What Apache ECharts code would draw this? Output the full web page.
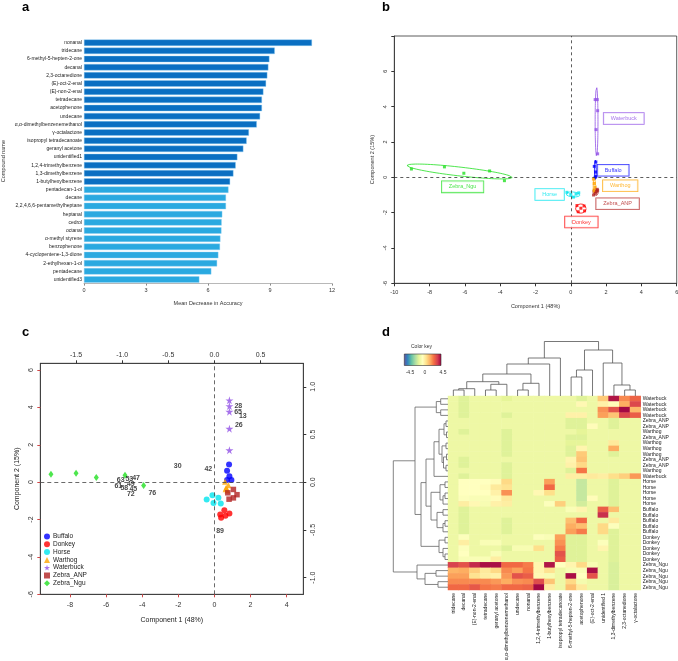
<!DOCTYPE html>
<html><head><meta charset="utf-8">
<script src="https://cdn.jsdelivr.net/npm/echarts@6/dist/echarts.min.js"></script>
<style>html,body{margin:0;padding:0;background:#fff}#c{width:678px;height:661px}</style>
</head><body><div id="c"></div>
<script>
const FONT = 'Liberation Sans, Arial, sans-serif';
// ---------- Panel a ----------
const compounds = ['nonanal','tridecane','6-methyl-5-hepten-2-one','decanal','2,3-octanedione','(E)-oct-2-enal','(E)-non-2-enal','tetradecane','acetophenone','undecane','α,α-dimethylbenzenemethanol','γ-octalactone','isopropyl tetradecanoate','geranyl acetone','unidentified1','1,2,4-trimethylbenzene','1,3-dimethylbenzene','1-butylhexylbenzene','pentadecan-1-ol','decane','2,2,4,6,6-pentamethylheptane','heptanal','cedrol','octanal','α-methyl styrene','benzophenone','4-cyclopentene-1,3-dione','2-ethylhexan-1-ol','pentadecane','unidentified3'];
const mda = [11.03,9.23,8.97,8.92,8.87,8.81,8.68,8.61,8.61,8.52,8.36,7.98,7.87,7.71,7.42,7.34,7.23,7.07,6.99,6.87,6.87,6.69,6.66,6.65,6.60,6.58,6.50,6.44,6.16,5.58];
const nDarkBars = 18;
const aTicks = [0,3,6,9,12];
// ---------- Panel b ----------
const groups = ['Buffalo','Donkey','Horse','Warthog','Waterbuck','Zebra_ANP','Zebra_Ngu'];
const groupColors = ['#0000ff','#ff0000','#00e5ee','#ffa500','#9150e6','#b22222','#22e022'];
const bBuffalo = [[1.42,0.87],[1.33,0.62],[1.40,0.30],[1.42,0.05],[1.38,0.0]];
const bDonkey = [[0.35,-1.6],[0.75,-1.62],[0.42,-1.95],[0.78,-1.9],[0.57,-1.75]];
const bHorse = [[-0.22,-0.85],[0.0,-0.97],[0.15,-1.12],[0.3,-0.95],[0.45,-0.88]];
const bWarthog = [[1.28,-0.1],[1.33,-0.35],[1.38,-0.55],[1.32,-0.72],[1.38,-0.82]];
const bWaterbuck = [[1.38,4.4],[1.5,4.4],[1.52,3.77],[1.43,2.7],[1.52,1.33]];
const bZebraANP = [[1.29,-1.0],[1.4,-0.9],[1.5,-0.68],[1.45,-0.8],[1.52,-0.75]];
const bZebraNgu = [[-9.03,0.47],[-7.16,0.59],[-6.06,0.23],[-4.6,0.36],[-3.76,-0.19]];
const bEllCx = [1.39,0.57,0.12,1.33,1.46,1.4,-6.3];
const bEllCy = [0.42,-1.77,-0.97,-0.45,3.15,-0.84,0.33];
const bEllRx = [0.05,0.3,0.4,0.06,0.08,0.14,3.0];
const bEllRy = [0.55,0.26,0.14,0.45,1.95,0.2,0.25];
const bEllAng = [0,0,-5,0,0,30,-6.5];
const bLabelX = [2.4,0.6,-1.2,2.8,3.0,2.65,-6.13];
const bLabelY = [0.4,-2.53,-0.97,-0.48,3.33,-1.5,-0.54];
// ---------- Panel c ----------
const cBuffalo = [[0.81,0.95],[0.70,0.61],[0.83,0.32],[0.94,0.11],[0.70,0.11]];
const cDonkey = [[0.55,-1.5],[0.32,-1.73],[0.61,-1.8],[0.83,-1.68],[0.37,-1.91]];
const cHorse = [[-0.11,-0.70],[-0.43,-0.93],[0.22,-0.84],[-0.05,-1.11],[0.35,-1.14]];
const cWarthog = [[0.59,0.02],[0.78,-0.16],[0.72,-0.45],[0.65,-0.3],[0.62,-0.38]];
const cWaterbuck = [[0.83,4.38],[0.83,4.07],[0.83,3.77],[0.83,2.86],[0.83,1.71]];
const cZebraANP = [[1.05,-0.39],[0.74,-0.57],[1.25,-0.67],[1.05,-0.84],[0.81,-0.91]];
const cZebraNgu = [[-9.05,0.43],[-7.66,0.48],[-6.54,0.25],[-4.95,0.37],[-3.92,-0.18]];
const cLabelText = ['28','65','13','26','30','42','63','53','47','49','61','58','45','72','76','89'];
const cLabelX = [1.32,1.31,1.57,1.35,-2.03,-0.34,-5.19,-4.71,-4.34,-4.63,-5.32,-4.99,-4.49,-4.63,-3.44,0.31];
const cLabelY = [4.07,3.77,3.54,3.04,0.87,0.70,0.09,0.16,0.20,-0.09,-0.21,-0.34,-0.37,-0.66,-0.57,-2.59];
const cBottomTicks = [-8,-6,-4,-2,0,2,4];
const cLeftTicks = [-6,-4,-2,0,2,4,6];
const cTopTicks = [-1.5,-1.0,-0.5,0,0.5];
const cRightTicks = [-1.0,-0.5,0,0.5,1.0];
// ---------- Panel d ----------
const dColNames = ['tridecane','decanal','(E)-non-2-enal','tetradecane','geranyl acetone','α,α-dimethylbenzenemethanol','undecane','nonanal','1,2,4-trimethylbenzene','1-butylhexylbenzene','isopropyl tetradecanoate','6-methyl-5-hepten-2-one','acetophenone','(E)-oct-2-enal','unidentified 1','1,3-dimethylbenzene','2,3-octanedione','γ-octalactone'];
const dRowNames = ['Waterbuck','Waterbuck','Waterbuck','Waterbuck','Zebra_ANP','Zebra_ANP','Warthog','Zebra_ANP','Warthog','Warthog','Warthog','Zebra_ANP','Zebra_ANP','Warthog','Waterbuck','Horse','Horse','Horse','Horse','Horse','Buffalo','Buffalo','Buffalo','Buffalo','Buffalo','Donkey','Donkey','Donkey','Donkey','Donkey','Zebra_Ngu','Zebra_Ngu','Zebra_Ngu','Zebra_Ngu','Zebra_Ngu'];
const dMatrix = [
[-0.6,-1.0,-0.6,-0.6,-0.6,-0.9,-0.6,-0.6,-0.6,-0.6,-0.6,-0.6,-1.0,-0.6,1.3,4.2,2.3,2.9],
[-0.6,-1.0,-0.6,-0.6,-0.6,-0.6,-0.6,-0.6,-0.6,-0.6,-0.6,-0.6,0.2,-0.6,0.4,0.1,1.8,3.4],
[-0.6,-1.0,-0.6,-0.6,-0.6,-0.6,-0.6,-0.6,-0.6,-0.6,-0.6,-0.6,-0.6,-0.6,2.2,3.2,4.4,1.6],
[-0.6,-1.0,-0.6,-0.6,-0.6,-1.0,-0.6,-0.6,-0.6,-0.6,-0.6,0.4,0.4,-0.6,2.0,1.4,3.4,3.0],
[-0.6,-0.6,-0.6,-0.6,-0.6,-0.6,-0.6,-0.6,-0.6,-0.6,-0.6,-1.0,-1.0,-0.6,-0.6,-1.0,-0.6,-0.6],
[-0.6,-0.6,-0.6,-0.6,-0.6,-0.6,-0.6,-0.6,-0.6,-0.6,-0.6,-1.0,-1.0,0.1,-0.6,-1.0,-0.6,-0.6],
[-0.6,-1.0,-0.6,-0.6,-0.6,-1.0,-0.6,-0.6,-0.6,-0.6,-0.6,-0.6,-0.9,-0.6,-0.6,-0.6,-0.6,-0.6],
[-0.6,-0.6,-0.6,-0.6,-0.6,-1.0,-0.6,-0.6,-0.6,-0.6,-0.6,-1.0,-1.0,-0.6,-0.6,-0.6,-0.6,-0.6],
[-0.6,-0.6,-0.6,-0.6,-0.6,-1.0,-0.6,-0.6,-0.6,-0.6,-0.6,-0.9,-0.9,-0.6,-0.6,0.6,-0.6,-0.6],
[-0.6,-0.6,-0.6,-0.6,-0.6,-1.0,-0.6,-0.6,-0.6,-0.6,-0.6,-1.0,0.3,-0.6,-0.6,1.8,-0.6,-0.6],
[-0.6,-0.6,-0.6,-0.6,-0.6,-1.0,-0.6,-0.6,-0.6,-0.6,-0.6,-1.0,1.3,-0.6,-0.6,-1.0,-0.6,-0.6],
[-0.6,-1.0,-0.6,-0.6,-0.6,-0.6,-0.6,-0.6,-0.6,-0.6,-0.6,0.3,1.4,-0.6,-0.6,-0.6,-0.6,-0.6],
[-0.6,-1.0,-0.6,-0.6,-0.6,-1.0,-0.6,-0.6,-0.6,-0.6,-0.6,0.4,1.0,-0.6,-0.6,-0.6,-0.6,-0.6],
[-0.6,-0.6,-0.6,-0.6,-0.6,-1.0,-0.6,-0.6,-0.6,-0.6,-0.6,-1.0,2.6,-0.6,-0.6,-0.6,-0.6,-0.6],
[-0.6,-1.0,-0.6,-0.6,-0.6,-1.0,-0.6,-0.6,-0.6,-0.6,-0.6,0.5,0.5,0.6,0.5,0.9,1.2,2.1],
[-0.6,0.0,0.0,0.0,0.1,1.0,-0.6,-0.6,-0.6,2.0,-0.6,-0.6,-1.4,-0.6,-0.6,-1.0,-0.6,-0.6],
[-0.6,0.0,0.0,0.1,0.6,0.8,-0.6,-0.6,-0.6,2.8,-0.6,-0.6,-1.4,-0.6,-0.6,-1.0,-0.6,-0.6],
[-0.6,0.0,0.0,0.0,0.4,2.2,-0.6,-0.6,0.2,0.9,-0.6,-0.6,-1.4,-0.6,-0.6,-1.0,-0.6,-0.6],
[-0.6,-0.1,-0.2,-0.2,0.1,0.6,-0.6,-0.6,-0.6,-0.6,-0.6,-0.6,-1.4,0.1,-0.6,-1.0,-0.6,-0.6],
[-0.6,0.5,0.2,-0.3,0.4,0.5,-0.6,-0.6,-0.6,-0.1,1.2,-0.6,-1.2,-0.6,-0.6,-1.0,-0.6,-0.6],
[-0.6,-1.0,-0.6,-0.6,-0.6,-0.6,-0.6,-0.6,-0.6,-0.6,-0.6,-0.2,0.3,-0.6,3.0,1.5,-0.6,-0.6],
[-0.6,-1.0,-0.6,-0.6,-0.6,-0.6,-0.6,-0.6,-0.6,-0.6,-0.6,-0.6,-0.6,-0.6,3.8,-0.6,-0.6,-0.6],
[-0.6,-1.0,-0.6,-0.6,-0.6,-1.0,-0.6,-0.6,-0.6,-0.6,-0.6,1.5,2.8,-0.6,-0.6,0.6,-0.6,-0.6],
[-0.6,-1.0,-0.6,-0.6,-0.6,-1.0,-0.6,-0.6,-0.6,-0.6,-0.6,1.8,1.5,-0.6,1.0,-0.1,-0.6,-0.6],
[-0.6,-1.0,-0.6,-0.6,-0.6,-1.0,-0.6,-0.6,-0.6,-0.6,-0.6,2.0,2.5,-0.6,1.0,-1.0,-0.6,-0.6],
[-0.6,-0.1,-0.6,-0.6,-0.6,-0.6,-0.6,-0.6,-0.1,-0.2,2.0,-1.0,-1.0,-0.6,-0.6,-1.0,-0.6,-0.6],
[-0.6,0.5,-0.6,-0.2,-0.2,-0.6,-0.6,-0.6,-0.6,-0.6,2.2,-1.0,-1.0,-0.6,-0.1,-1.0,-0.6,-0.6],
[-0.6,-0.1,-0.6,-0.6,-0.6,-1.0,-0.3,-0.3,0.9,-0.6,2.5,-1.0,-1.0,-0.6,0.3,-1.0,-0.6,-0.6],
[-0.6,0.0,-0.6,-0.6,-0.2,-0.6,-0.6,-0.6,-0.6,-0.6,3.2,-1.0,-1.0,-0.6,-0.6,-1.0,-0.6,-0.6],
[-0.6,-0.2,-0.2,-0.2,0.5,-0.6,-0.6,-0.6,-0.6,-0.6,3.0,-1.0,-1.0,-0.6,-0.6,-1.0,-0.6,-0.6],
[3.5,3.2,3.9,4.3,4.3,2.8,2.8,2.5,0.3,4.2,0.0,0.3,1.0,-0.3,-0.6,-1.1,-0.6,-0.6],
[1.7,1.8,1.2,0.6,1.0,2.3,2.0,2.6,0.3,0.8,-0.6,-0.3,-0.2,4.3,-0.6,-1.1,-0.6,-0.6],
[2.0,2.0,0.8,0.5,0.4,2.1,3.2,3.0,0.2,-0.3,-0.6,4.3,0.0,3.2,-0.6,-1.1,-0.6,-0.6],
[2.3,2.3,2.3,2.3,2.1,1.8,2.2,2.3,3.3,1.4,-0.6,1.0,-0.4,-0.6,-0.6,-1.1,-0.6,-0.6],
[2.8,2.8,3.1,2.6,2.5,2.8,2.8,2.9,4.4,0.5,-0.6,1.5,0.6,-0.6,-0.6,-1.1,-0.6,-0.6]
];
// dendrogram merges: [childA, childB, height]; leaves 0..n-1, merge k => n+k
const dColMerges = [[0,1,6],[18,2,7.3],[3,4,6],[20,5,11.7],[6,7,6],[22,8,12.7],[19,21,14.3],[24,23,22],[25,9,32],[26,10,38],[11,12,19],[28,13,26],[16,17,6],[15,30,11],[14,31,33],[29,32,46],[27,33,54.5]];
const dRowMerges = [[0,1,7.3],[2,3,7.3],[35,36,11.7],[4,5,2],[6,7,1.5],[38,39,4],[8,9,2],[10,11,1.5],[12,13,2],[42,43,4.5],[41,44,6],[40,45,9],[46,14,14],[15,16,3],[17,18,3],[49,19,5],[48,50,8],[20,21,5],[22,23,3],[53,24,5],[52,54,11],[51,55,17],[47,56,22],[25,26,3],[28,29,3],[27,59,5],[58,60,9],[57,61,27],[37,62,33],[31,32,12],[33,34,10],[64,65,23],[30,66,31],[63,67,54.7]];
const spectral = ['#5e4fa2','#3288bd','#66c2a5','#abdda4','#e6f598','#ffffbf','#fee08b','#fdae61','#f46d43','#d53e4f','#9e0142'];
const keyTicks = ['-4.5','0','4.5'];

// ---------- helpers ----------
function ellipse(cx,cy,rx,ry,deg){const t=deg*Math.PI/180,p=[];for(let i=0;i<=90;i++){const a=i/90*2*Math.PI,x=rx*Math.cos(a),y=ry*Math.sin(a);p.push([cx+x*Math.cos(t)-y*Math.sin(t),cy+x*Math.sin(t)+y*Math.cos(t)]);}return p;}
function dendro(merges,n,horiz){const pos=[],ht=[],out=[];for(let i=0;i<n;i++){pos[i]=i+0.5;ht[i]=0;}
 merges.forEach((m,k)=>{const [a,b,h]=m,id=n+k;const pts=[[pos[a],ht[a]],[pos[a],h],[pos[b],h],[pos[b],ht[b]]];
 out.push({coords:horiz?pts.map(p=>[p[1],p[0]]):pts});pos[id]=(pos[a]+pos[b])/2;ht[id]=h;});return out;}

const chart = echarts.init(document.getElementById('c'), null, {renderer:'canvas'});
const small = {fontFamily:FONT,fontSize:5.5,color:'#333'};
const hide = {show:false};
const bGroupsData = [bBuffalo,bDonkey,bHorse,bWarthog,bWaterbuck,bZebraANP,bZebraNgu];
const cGroupsData = [cBuffalo,cDonkey,cHorse,cWarthog,cWaterbuck,cZebraANP,cZebraNgu];
const starPath = 'path://M50,0 L61,35 L98,35 L68,57 L79,91 L50,70 L21,91 L32,57 L2,35 L39,35 Z';
const cSymbols = ['circle','circle','circle','triangle',starPath,'rect','diamond'];
const cSizes = [6,6,6,6,8,5.5,[5,7]];

const series = [];
series.push({type:'bar',xAxisIndex:0,yAxisIndex:0,barWidth:6.4,
  data:mda.map((v,i)=>({value:v,itemStyle:{color:i<nDarkBars?'#0a6fc2':'#2aa9e0',borderColor:'#8fd0f2',borderWidth:0.4}})),silent:true});
groups.forEach((g,i)=>{
  series.push({type:'line',name:'b-'+g,xAxisIndex:1,yAxisIndex:1,showSymbol:false,silent:true,
    data:ellipse(bEllCx[i],bEllCy[i],bEllRx[i],bEllRy[i],bEllAng[i]),lineStyle:{color:groupColors[i],width:0.8},z:3});
  series.push({type:'scatter',name:'b-'+g+'-pts',xAxisIndex:1,yAxisIndex:1,symbol:'rect',symbolSize:3,silent:true,
    data:bGroupsData[i],itemStyle:{color:groupColors[i]},z:4});
  series.push({type:'scatter',name:'b-'+g+'-lab',xAxisIndex:1,yAxisIndex:1,symbolSize:0,silent:true,
    data:[[bLabelX[i],bLabelY[i]]],
    label:{show:true,position:'inside',formatter:g,fontFamily:FONT,fontSize:5.5,color:groupColors[i],
      borderColor:groupColors[i],borderWidth:0.8,padding:[2.5,7],backgroundColor:'#fff',opacity:0.8},z:5});
});
series.push({type:'line',name:'b-axes',xAxisIndex:1,yAxisIndex:1,data:[],silent:true,
  markLine:{silent:true,symbol:'none',label:hide,lineStyle:{type:[3,3],color:'#333',width:0.8},data:[{xAxis:0},{yAxis:0}]}});
groups.forEach((g,i)=>{
  series.push({type:'scatter',name:g,xAxisIndex:2,yAxisIndex:2,symbol:cSymbols[i],symbolSize:cSizes[i],silent:true,
    data:cGroupsData[i],itemStyle:{color:groupColors[i]},z:4});
});
series.push({type:'scatter',name:'c-labels',xAxisIndex:2,yAxisIndex:2,symbolSize:0,silent:true,
  data:cLabelText.map((t,i)=>[cLabelX[i],cLabelY[i],t]),
  label:{show:true,position:'inside',formatter:p=>p.value[2],fontFamily:FONT,fontSize:7,fontWeight:'bold',color:'#111'},z:5});
series.push({type:'line',name:'c-axes',xAxisIndex:2,yAxisIndex:2,data:[],silent:true,
  markLine:{silent:true,symbol:'none',label:hide,lineStyle:{type:[4,3],color:'#444',width:0.8},data:[{xAxis:0},{yAxis:0}]}});
const heatData=[];dMatrix.forEach((row,r)=>row.forEach((v,c)=>heatData.push([c,r,v])));
const heatIdx = series.length;
series.push({type:'heatmap',name:'d-heat',xAxisIndex:4,yAxisIndex:4,data:heatData,silent:true,itemStyle:{borderWidth:0}});
series.push({type:'lines',name:'d-coldend',coordinateSystem:'cartesian2d',xAxisIndex:5,yAxisIndex:5,polyline:true,silent:true,
  data:dendro(dColMerges,dColNames.length,false),lineStyle:{color:'#555',width:0.8,opacity:1}});
series.push({type:'lines',name:'d-rowdend',coordinateSystem:'cartesian2d',xAxisIndex:6,yAxisIndex:6,polyline:true,silent:true,
  data:dendro(dRowMerges,dRowNames.length,true),lineStyle:{color:'#666',width:0.8,opacity:1}});

const noAxis = {show:true,axisLine:hide,axisTick:hide,axisLabel:hide,splitLine:hide};
const line = (c)=>({show:true,onZero:false,lineStyle:{color:c||'#333',width:0.8}});
const option = {
  animation:false,
  textStyle:{fontFamily:FONT},
  grid:[
    {left:84,top:38.6,width:248,height:245,outerBoundsMode:'none'},
    {left:394.3,top:36,width:282.4,height:247.3,show:true,borderColor:'#333',borderWidth:0.8,outerBoundsMode:'none'},
    {left:40.3,top:363.3,width:263,height:231,show:true,borderColor:'#333',borderWidth:0.8,outerBoundsMode:'none'},
    {left:448,top:396,width:192.7,height:194,outerBoundsMode:'none'},
    {left:448,top:335,width:192.7,height:61,outerBoundsMode:'none'},
    {left:390,top:396,width:58,height:194,outerBoundsMode:'none'}
  ],
  xAxis:[
    {gridIndex:0,type:'value',min:0,max:12,interval:3,splitLine:hide,
      axisLine:{show:true,onZero:false,lineStyle:{color:'#888',width:0.6}},axisTick:{show:true,length:2,lineStyle:{color:'#888'}},
      axisLabel:Object.assign({margin:4,customValues:aTicks},small),
      name:'Mean Decrease in Accuracy',nameLocation:'middle',nameGap:17,nameTextStyle:small},
    {gridIndex:1,type:'value',min:-10,max:6,interval:2,splitLine:hide,
      axisLine:line(),axisTick:{show:true,length:3,lineStyle:{color:'#333'}},
      axisLabel:Object.assign({margin:6,showMinLabel:true,showMaxLabel:true},small),
      name:'Component 1 (48%)',nameLocation:'middle',nameGap:20,nameTextStyle:small},
    {gridIndex:2,type:'value',min:-9.64,max:4.92,position:'bottom',splitLine:hide,
      axisLine:line(),
      axisTick:{show:true,length:3,customValues:cBottomTicks,lineStyle:{color:'#d04848'}},
      axisLabel:{customValues:cBottomTicks,margin:7,fontFamily:FONT,fontSize:7,color:'#333'},
      name:'Component 1 (48%)',nameLocation:'middle',nameGap:22,nameTextStyle:{fontFamily:FONT,fontSize:7,color:'#222'}},
    {gridIndex:2,type:'value',min:-1.8875,max:0.963,position:'top',splitLine:hide,
      axisLine:line(),
      axisTick:{show:true,length:3,customValues:cTopTicks,lineStyle:{color:'#333'}},
      axisLabel:{customValues:cTopTicks,margin:5,fontFamily:FONT,fontSize:7,color:'#333',formatter:v=>v.toFixed(1)}},
    {gridIndex:3,type:'category',data:dColNames,position:'bottom',axisLine:hide,axisTick:hide,splitLine:hide,
      axisLabel:{interval:0,rotate:90,margin:3,fontFamily:FONT,fontSize:5,color:'#222'}},
    Object.assign({gridIndex:4,type:'value',min:0,max:18},noAxis),
    Object.assign({gridIndex:5,type:'value',min:0,max:58,inverse:true},noAxis)
  ],
  yAxis:[
    {gridIndex:0,type:'category',data:compounds,inverse:true,axisLine:hide,axisTick:hide,splitLine:hide,
      axisLabel:{interval:0,margin:2,fontFamily:FONT,fontSize:5,color:'#222'},
      name:'Compound name',nameLocation:'middle',nameGap:78,nameRotate:90,nameTextStyle:small},
    {gridIndex:1,type:'value',min:-6,max:8,interval:2,splitLine:hide,
      axisLine:line(),axisTick:{show:true,length:3,lineStyle:{color:'#333'}},
      axisLabel:Object.assign({margin:6,rotate:90,formatter:v=>v===8?'':String(v)},small),
      name:'Component 2 (15%)',nameLocation:'middle',nameGap:19,nameRotate:90,nameTextStyle:small},
    {gridIndex:2,type:'value',min:-6,max:6.36,position:'left',splitLine:hide,
      axisLine:line(),
      axisTick:{show:true,length:3,customValues:cLeftTicks,lineStyle:{color:'#d04848'}},
      axisLabel:{customValues:cLeftTicks,margin:6,rotate:90,fontFamily:FONT,fontSize:7,color:'#333'},
      name:'Component 2 (15%)',nameLocation:'middle',nameGap:20,nameRotate:90,nameTextStyle:{fontFamily:FONT,fontSize:7,color:'#222'}},
    {gridIndex:2,type:'value',min:-1.175,max:1.246,position:'right',splitLine:hide,
      axisLine:line(),
      axisTick:{show:true,length:3,customValues:cRightTicks,lineStyle:{color:'#333'}},
      axisLabel:{customValues:cRightTicks,margin:6,rotate:90,fontFamily:FONT,fontSize:7,color:'#333',formatter:v=>v.toFixed(1)}},
    {gridIndex:3,type:'category',data:dRowNames.map((n,i)=>'r'+i),inverse:true,position:'right',axisLine:hide,axisTick:hide,splitLine:hide,
      axisLabel:{interval:0,margin:2,fontFamily:FONT,fontSize:5,color:'#222',formatter:(v,i)=>dRowNames[i]}},
    Object.assign({gridIndex:4,type:'value',min:0,max:61},noAxis),
    Object.assign({gridIndex:5,type:'value',min:0,max:35,inverse:true},noAxis)
  ],
  visualMap:[{type:'continuous',min:-4.5,max:4.5,seriesIndex:heatIdx,show:false,inRange:{color:spectral}}],
  legend:{show:true,orient:'vertical',left:44,top:533,itemWidth:6,itemHeight:6,itemGap:0.8,selectedMode:false,padding:0,
    data:groups.map((g,i)=>({name:g,icon:cSymbols[i]})),
    textStyle:{fontFamily:FONT,fontSize:6.5,color:'#222',lineHeight:7,height:7,padding:[0,0,0,-2]}},
  graphic:[
    {type:'text',left:22,top:1,style:{text:'a',font:'bold 13px '+FONT,fill:'#000'}},
    {type:'text',left:382,top:1,style:{text:'b',font:'bold 13px '+FONT,fill:'#000'}},
    {type:'text',left:22,top:326,style:{text:'c',font:'bold 13px '+FONT,fill:'#000'}},
    {type:'text',left:382,top:326,style:{text:'d',font:'bold 13px '+FONT,fill:'#000'}},
    {type:'text',left:411,top:344,style:{text:'Color key',font:'5px '+FONT,fill:'#333'}},
    {type:'rect',shape:{x:404.3,y:354,width:36.7,height:11.5},
      style:{fill:new echarts.graphic.LinearGradient(0,0,1,0,spectral.map((c,i)=>({offset:i/(spectral.length-1),color:c}))),stroke:'#333',lineWidth:0.6}},
    {type:'text',x:410,y:370,style:{text:keyTicks[0],font:'5px '+FONT,fill:'#333',align:'center'}},
    {type:'text',x:425,y:370,style:{text:keyTicks[1],font:'5px '+FONT,fill:'#333',align:'center'}},
    {type:'text',x:443,y:370,style:{text:keyTicks[2],font:'5px '+FONT,fill:'#333',align:'center'}}
  ],
  series:series
};
chart.setOption(option);
</script></body></html>
